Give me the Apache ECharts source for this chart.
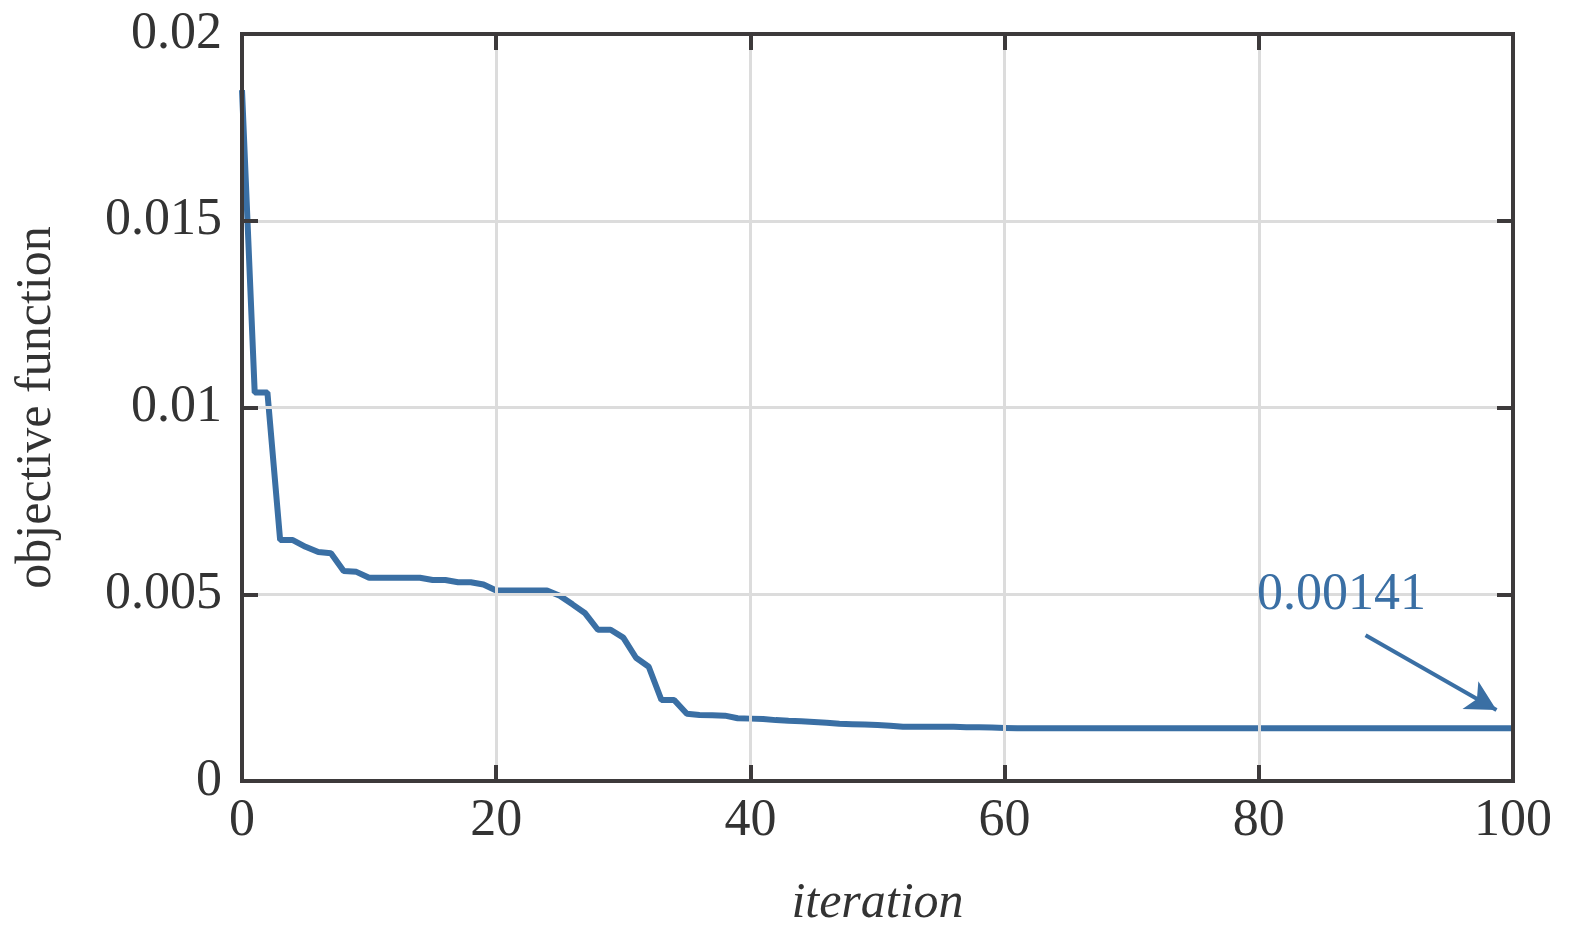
<!DOCTYPE html>
<html><head><meta charset="utf-8">
<script src="https://cdn.jsdelivr.net/npm/echarts@6/dist/echarts.min.js"></script>
<style>html,body{margin:0;background:#fff}#c{width:1571px;height:940px}</style>
</head><body><div id="c"></div>
<script>
const xTicks = [0, 20, 40, 60, 80, 100];
const yTicks = [0, 0.005, 0.01, 0.015, 0.02];
const early = [0.0185,0.0104,0.0104,0.00645,0.00645,0.00627,0.00613,0.0061,0.00562,0.0056,
  0.00544,0.00544,0.00544,0.00544,0.00544,0.00538,0.00538,0.00532,0.00532,0.00526,
  0.0051,0.0051,0.0051,0.0051,0.0051,0.00496,0.00473,0.00449,0.00405,0.00405,
  0.00384,0.0033,0.00306,0.00217,0.00217,0.0018,0.00177,0.00176,0.00175,0.00168,
  0.00167,0.00166,0.00163,0.00161,0.0016,0.00158,0.00156,0.00153,0.00152,0.00151,
  0.0015,0.00148,0.00145,0.00145,0.00145,0.00145,0.00145,0.00144,0.00144,0.00143,0.00142];
const lateValue = 0.00141;
const values = early.concat(new Array(101 - early.length).fill(lateValue));
const finalLabel = '0.00141';
const arrowStart = [88.4, 0.0039];
const arrowEnd = [98.7, 0.0019];
const labelPos = [86.5, 0.00498];

const data = values.map((v, i) => [i, v]);
const font = 'Liberation Serif, DejaVu Serif, serif';
const dark = '#3d3a3b';
const blue = '#3a6fa4';
const chart = echarts.init(document.getElementById('c'));
const tick = () => ({show:true, inside:true, length:16, lineStyle:{color:dark, width:4}});
const line = () => ({show:true, onZero:false, lineStyle:{color:dark, width:4}});
chart.setOption({
  animation:false,
  grid:{left:242, right:58, top:34, bottom:159, show:true, borderColor:dark, borderWidth:4, backgroundColor:'transparent'},
  xAxis:[{type:'value', min:0, max:100, interval:20, z:5,
    axisLine:line(), axisTick:tick(),
    axisLabel:{fontFamily:font, fontSize:52, color:'#333', margin:14},
    splitLine:{show:true, lineStyle:{color:'#dcdcdc', width:3}},
    name:'iteration', nameLocation:'middle', nameGap:98,
    nameTextStyle:{fontFamily:font, fontSize:50, fontStyle:'italic', color:'#333'}},
   {type:'value', position:'top', min:0, max:100, interval:20, z:5,
    axisLine:line(), axisTick:tick(), axisLabel:{show:false}, splitLine:{show:false}}],
  yAxis:[{type:'value', min:0, max:0.02, interval:0.005, z:5,
    axisLine:line(), axisTick:tick(),
    axisLabel:{fontFamily:font, fontSize:52, color:'#333', margin:20,
      formatter:v => String(+v.toFixed(3))},
    splitLine:{show:true, lineStyle:{color:'#dcdcdc', width:3}},
    name:'objective function', nameLocation:'middle', nameGap:180,
    nameTextStyle:{fontFamily:font, fontSize:50, color:'#333'}},
   {type:'value', position:'right', min:0, max:0.02, interval:0.005, z:5,
    axisLine:line(), axisTick:tick(), axisLabel:{show:false}, splitLine:{show:false}}],
  series:[{type:'line', data:data, showSymbol:false, lineStyle:{color:blue, width:6}, z:3,
    markLine:{silent:true, symbol:['none','arrow'], symbolSize:[24,30],
      lineStyle:{color:blue, width:4, type:'solid'}, label:{show:false},
      data:[[{coord:arrowStart},{coord:arrowEnd}]]},
    markPoint:{silent:true, symbol:'circle', symbolSize:0,
      label:{show:true, formatter:finalLabel, fontFamily:font, fontSize:52, color:blue},
      data:[{coord:labelPos}]}
  },
  {type:'line', xAxisIndex:1, yAxisIndex:1, data:[], silent:true}]
});
</script></body></html>
